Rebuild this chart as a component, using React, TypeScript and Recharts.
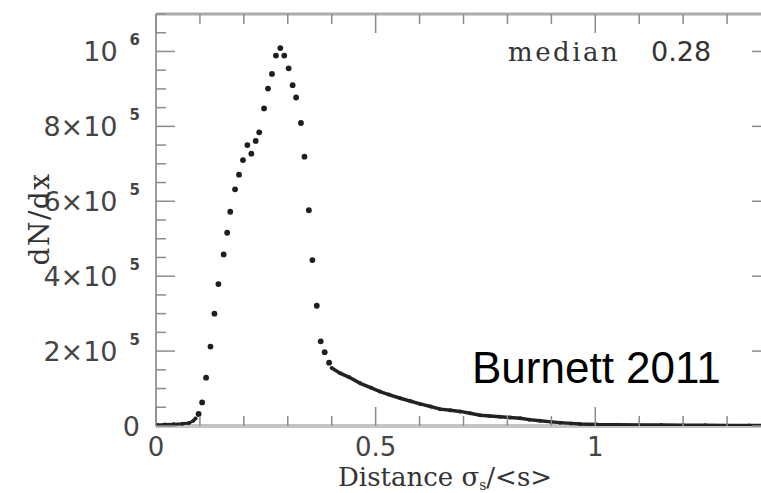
import React from "react";
import { ScatterChart, Scatter, XAxis, YAxis } from "recharts";

// sparse points of the peak (x = σs/<s>, y = dN/dx)
const peakX = [
  0.097, 0.105, 0.114, 0.124, 0.133, 0.142, 0.154, 0.162, 0.169, 0.18, 0.189,
  0.198, 0.208, 0.217, 0.227, 0.235, 0.246, 0.255, 0.264, 0.273, 0.283, 0.292,
  0.302, 0.311, 0.319, 0.33, 0.338, 0.348, 0.356, 0.366, 0.375, 0.384, 0.394,
];
const peakY = [
  32000, 63000, 129000, 212000, 300000, 379000, 458000, 516000, 572000, 632000,
  671000, 710000, 750000, 727000, 761000, 784000, 848000, 901000, 940000,
  989000, 1009000, 989000, 955000, 910000, 877000, 809000, 719000, 576000,
  443000, 321000, 226000, 197000, 169000,
];

// flat start before the rise
const baseX = [0.003, 0.02, 0.04, 0.06, 0.075, 0.085, 0.09];
const baseY = [3000, 4000, 5000, 6000, 8000, 14000, 20000];

// dense tail, drawn as a thick run of points
const tailX = [
  0.4, 0.419, 0.44, 0.465, 0.49, 0.51, 0.53, 0.556, 0.58, 0.601, 0.625, 0.647,
  0.67, 0.692, 0.715, 0.738, 0.76, 0.783, 0.806, 0.829, 0.85, 0.874, 0.9, 0.92,
  0.945, 0.965, 1.004, 1.05, 1.1, 1.15, 1.2, 1.25, 1.3, 1.35, 1.4,
];
const tailY = [
  155000, 141000, 130000, 114000, 102000, 92000, 84000, 74000, 66000, 59000,
  52000, 45000, 42000, 39000, 34000, 29000, 27000, 25000, 23000, 20500, 17000,
  14000, 11000, 9000, 7000, 5500, 4000, 3500, 3000, 2500, 2000, 2000, 1500,
  1500, 1000,
];

const xTicks = [0, 0.1, 0.2, 0.3, 0.4, 0.5, 0.6, 0.7, 0.8, 0.9, 1, 1.1, 1.2, 1.3, 1.4];
const xMajor = [0, 0.5, 1];
const xLabels = ["0", "0.5", "1"];

const yTicks = [
  0, 50000, 100000, 150000, 200000, 250000, 300000, 350000, 400000, 450000,
  500000, 550000, 600000, 650000, 700000, 750000, 800000, 850000, 900000,
  950000, 1000000, 1050000, 1100000,
];
const yMajor = [0, 200000, 400000, 600000, 800000, 1000000];
const yBase = ["0", "2×10", "4×10", "6×10", "8×10", "10"];
const yExp = ["", "5", "5", "5", "5", "6"];

const TICK = "#8c8c8c";
const LABEL = "#444";
const NUM_FONT = "'DejaVu Sans', sans-serif";
const SERIF = "'DejaVu Serif', serif";

const peak = peakX.map((x, i) => ({ x, y: peakY[i] }));
const base = baseX.map((x, i) => ({ x, y: baseY[i] }));
const tail = tailX.map((x, i) => ({ x, y: tailY[i] }));

const majorIdx = (list: number[], v: number) =>
  list.findIndex((m) => Math.abs(m - v) < 1e-6);

function xTick(side: "bottom" | "top") {
  return (props: any) => {
    const { x, y, payload } = props;
    const i = majorIdx(xMajor, payload.value);
    const len = i >= 0 ? 19 : 10;
    const dir = side === "bottom" ? -1 : 1;
    return (
      <g>
        <line x1={x} y1={y} x2={x} y2={y + dir * len} stroke={TICK} strokeWidth={1.5} />
        {side === "bottom" && i >= 0 && (
          <text x={x} y={y + 30} textAnchor="middle" fill={LABEL} fontSize={26} fontFamily={NUM_FONT}>
            {xLabels[i]}
          </text>
        )}
      </g>
    );
  };
}

function yTick(side: "left" | "right") {
  return (props: any) => {
    const { x, y, payload } = props;
    const i = majorIdx(yMajor, payload.value);
    const len = i >= 0 ? 19 : 10;
    const dir = side === "left" ? 1 : -1;
    return (
      <g>
        <line x1={x} y1={y} x2={x + dir * len} y2={y} stroke={TICK} strokeWidth={1.5} />
        {side === "left" && i >= 0 && (
          <text x={x - 16} y={y + 10} textAnchor="end" fill={LABEL} fontSize={27} fontFamily={NUM_FONT}>
            <tspan>{yBase[i]}</tspan>
            {yExp[i] && (
              <tspan dx={12} dy={-16} fontSize={15} fontWeight="bold">
                {yExp[i]}
              </tspan>
            )}
          </text>
        )}
      </g>
    );
  };
}

const bigDot = (p: any) => <circle cx={p.cx} cy={p.cy} r={2.9} fill="#1e1e1e" />;
const smallDot = (p: any) => <circle cx={p.cx} cy={p.cy} r={2} fill="#222" />;

export default function App() {
  return (
    <div
      style={{
        position: "fixed",
        left: 0,
        top: 0,
        width: 761,
        height: 493,
        overflow: "hidden",
        background: "#fff",
      }}
    >
      <ScatterChart
        width={790}
        height={493}
        margin={{ top: 4, right: 9, bottom: 37, left: 96 }}
      >
        <XAxis
          xAxisId="b"
          type="number"
          dataKey="x"
          domain={[0, 1.4]}
          ticks={xTicks}
          interval={0}
          allowDataOverflow
          height={30}
          tickSize={0}
          tickMargin={0}
          tickLine={false}
          axisLine={{ stroke: "#c4c4c4", strokeWidth: 4 }}
          tick={xTick("bottom")}
        />
        <XAxis
          xAxisId="t"
          orientation="top"
          type="number"
          dataKey="x"
          domain={[0, 1.4]}
          ticks={xTicks}
          interval={0}
          allowDataOverflow
          height={10}
          tickSize={0}
          tickMargin={0}
          tickLine={false}
          axisLine={{ stroke: "#ababab", strokeWidth: 3 }}
          tick={xTick("top")}
        />
        <YAxis
          yAxisId="l"
          type="number"
          dataKey="y"
          domain={[0, 1100000]}
          ticks={yTicks}
          interval={0}
          allowDataOverflow
          width={60}
          tickSize={0}
          tickMargin={0}
          tickLine={false}
          axisLine={{ stroke: "#9c9c9c", strokeWidth: 2 }}
          tick={yTick("left")}
        />
        <YAxis
          yAxisId="r"
          orientation="right"
          type="number"
          dataKey="y"
          domain={[0, 1100000]}
          ticks={yTicks}
          interval={0}
          allowDataOverflow
          width={10}
          tickSize={0}
          tickMargin={0}
          tickLine={false}
          axisLine={{ stroke: "#9c9c9c", strokeWidth: 2 }}
          tick={yTick("right")}
        />
        <Scatter
          xAxisId="b"
          yAxisId="l"
          data={base}
          line={{ stroke: "#222", strokeWidth: 3 }}
          shape={smallDot}
          isAnimationActive={false}
        />
        <Scatter
          xAxisId="b"
          yAxisId="l"
          data={tail}
          line={{ stroke: "#222", strokeWidth: 3.5 }}
          shape={smallDot}
          isAnimationActive={false}
        />
        <Scatter
          xAxisId="b"
          yAxisId="l"
          data={peak}
          shape={bigDot}
          isAnimationActive={false}
        />
      </ScatterChart>

      <svg
        width={761}
        height={493}
        style={{ position: "absolute", left: 0, top: 0, pointerEvents: "none" }}
      >
        <text x={508} y={61} fill="#333" fontSize={26} fontFamily={SERIF} letterSpacing={2.5}>
          median
        </text>
        <text x={651} y={61} fill="#333" fontSize={27} fontFamily={NUM_FONT}>
          0.28
        </text>
        <text
          transform="translate(49 219) rotate(-90)"
          textAnchor="middle"
          fill="#333"
          fontSize={28}
          fontFamily={SERIF}
          letterSpacing={1.5}
        >
          dN/dx
        </text>
        <text x={338} y={486} fill="#333" fontSize={26} fontFamily={SERIF}>
          Distance σ
          <tspan fontSize={14} dy={4}>
            s
          </tspan>
          <tspan dy={-4}>/&lt;s&gt;</tspan>
        </text>
        <text x={472} y={383} fill="#000" fontSize={44} fontFamily="'Liberation Sans', Arial, sans-serif">
          Burnett 2011
        </text>
      </svg>
    </div>
  );
}
